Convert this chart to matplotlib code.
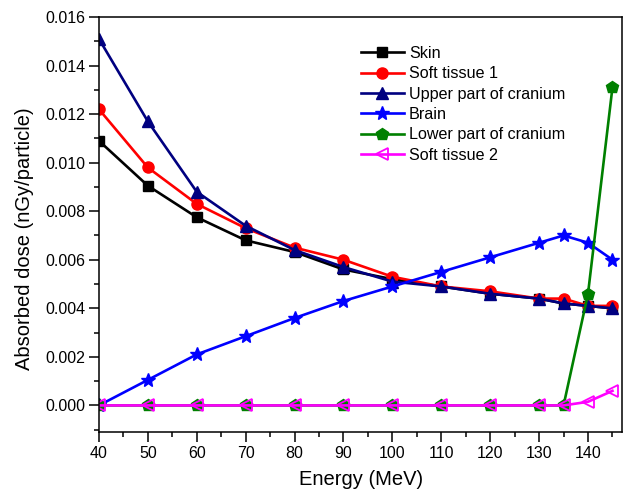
import matplotlib
matplotlib.use("Agg")
import matplotlib.pyplot as plt
from matplotlib.ticker import MultipleLocator, FormatStrFormatter

plt.rcParams['font.family'] = ['Liberation Sans', 'DejaVu Sans']

energy = [40, 50, 60, 70, 80, 90, 100, 110, 120, 130, 135, 140, 145]

skin = [0.0109, 0.00905, 0.00775, 0.0068, 0.00632, 0.0056, 0.0052,
        0.0049, 0.0046, 0.0044, 0.0042, 0.0041, 0.0040]
soft_tissue_1 = [0.0122, 0.0098, 0.0083, 0.0073, 0.0065, 0.0060, 0.0053,
                 0.0049, 0.0047, 0.0044, 0.0044, 0.0041, 0.0041]
upper_cranium = [0.0151, 0.0117, 0.0088, 0.0074, 0.0064, 0.0057, 0.0051,
                 0.0049, 0.0046, 0.0044, 0.0042, 0.0041, 0.0040]
brain = [0.0, 0.00105, 0.0021, 0.00285, 0.0036, 0.0043, 0.0049,
         0.0055, 0.0061, 0.0067, 0.0070, 0.0067, 0.0060]
lower_cranium = [0, 0, 0, 0, 0, 0, 0, 0, 0, 0, 0, 0.0046, 0.0131]
soft_tissue_2 = [0, 0, 0, 0, 0, 0, 0, 0, 0, 0, 0, 0.00015, 0.0006]

fig = plt.figure(figsize=(6.26, 4.99), dpi=100)
ax = fig.add_axes([0.158, 0.134, 0.836, 0.832])

lw = 1.9
ax.plot(energy, skin, color='black', lw=lw, marker='s', ms=7, label='Skin')
ax.plot(energy, soft_tissue_1, color='red', lw=lw, marker='o', ms=8, label='Soft tissue 1')
ax.plot(energy, upper_cranium, color='#000080', lw=lw, marker='^', ms=9, label='Upper part of cranium')
ax.plot(energy, brain, color='blue', lw=lw, marker='*', ms=10, label='Brain')
ax.plot(energy, lower_cranium, color='green', lw=lw, marker='p', ms=9, label='Lower part of cranium')
ax.plot(energy, soft_tissue_2, color='magenta', lw=lw, marker='<', ms=9,
        mfc='none', mew=1.3, label='Soft tissue 2')

ax.set_xlim(40, 147)
ax.set_ylim(-0.0011, 0.016)
ax.xaxis.set_major_locator(MultipleLocator(10))
ax.xaxis.set_minor_locator(MultipleLocator(5))
ax.yaxis.set_major_locator(MultipleLocator(0.002))
ax.yaxis.set_minor_locator(MultipleLocator(0.001))
ax.yaxis.set_major_formatter(FormatStrFormatter('%.3f'))

ax.tick_params(which='major', direction='out', length=7, width=1.1, labelsize=11.5, pad=3)
ax.tick_params(which='minor', direction='out', length=3.5, width=1.1)
for s in ax.spines.values():
    s.set_linewidth(1.1)

ax.set_xlabel('Energy (MeV)', fontsize=14.5)
ax.set_ylabel('Absorbed dose (nGy/particle)', fontsize=14.5)
ax.xaxis.set_label_coords(0.5, -0.092)
ax.yaxis.set_label_coords(-0.124, 0.467)

ax.legend(loc='upper left', bbox_to_anchor=(0.50, 0.93), frameon=False,
          fontsize=11.6, numpoints=1, handlelength=2.7, handletextpad=0.3,
          labelspacing=0.33, borderaxespad=0, borderpad=0)

fig.savefig('out.png', dpi=100)
